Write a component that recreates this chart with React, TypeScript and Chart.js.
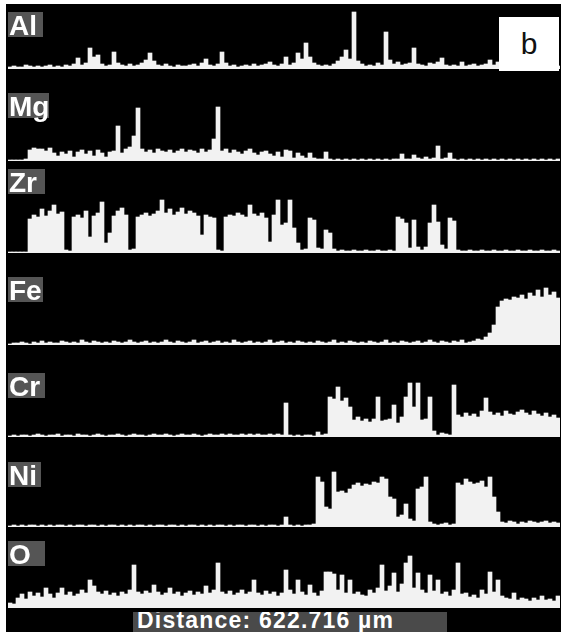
import React, { useEffect, useRef } from "react";
import { Chart, registerables } from "chart.js";

Chart.register(...registerables);

// 138 scan positions along the 622.716 µm line
const POSITIONS: string[] = Array.from({ length: 138 }, (_, i) => String(i));

const AL = [2,3,2,2,4,3,2,3,2,3,
 4,2,3,2,4,3,5,11,4,6,
 21,12,14,5,3,4,17,6,4,3,
 5,3,4,6,9,16,8,4,3,5,
 3,2,4,3,3,4,5,3,6,10,
 4,3,5,17,6,3,4,2,3,4,
 3,5,3,4,5,7,4,3,5,12,
 4,6,16,10,26,12,6,4,3,4,
 3,5,8,12,19,10,57,8,5,3,
 4,3,6,4,37,9,5,7,4,5,
 6,21,5,4,3,6,5,7,11,4,
 3,4,3,7,3,4,5,3,4,5,
 9,4,7,3,3,3,3,3,3,3,
 3,3,3,3,3,3,3,3];

const MG = [1,1,1,1,2,11,13,12,12,10,
 13,8,5,9,7,10,4,9,11,7,
 10,5,11,8,4,9,10,35,8,12,
 14,25,53,12,9,11,8,12,10,9,
 11,8,10,12,9,11,10,8,12,9,
 11,22,54,10,12,8,11,9,7,10,
 12,8,6,9,10,7,5,9,4,11,
 10,3,8,5,3,8,3,2,2,9,
 2,1,2,1,2,1,2,1,2,1,
 2,1,2,1,2,1,2,2,7,2,
 2,6,3,2,4,2,3,15,2,3,
 8,2,1,2,1,2,1,2,1,2,
 1,2,1,2,1,2,1,2,1,2,
 1,2,1,2,1,2,1,2];

const ZR = [1,1,1,1,1,34,38,36,44,37,
 42,48,39,41,3,2,36,38,35,42,
 16,37,40,51,10,20,37,42,45,38,
 3,4,36,38,40,37,39,42,53,40,
 44,38,41,45,39,42,40,37,18,38,
 36,35,3,2,36,38,37,40,38,36,
 48,39,37,40,35,11,38,53,28,30,
 53,25,10,3,4,35,33,5,4,23,
 20,4,2,3,2,2,3,2,2,3,
 2,2,3,2,2,3,2,36,34,30,
 5,33,6,3,6,30,48,31,8,4,
 35,32,3,2,2,3,2,2,3,2,
 2,3,2,2,3,2,2,3,2,2,
 3,2,2,3,2,2,3,2];

const FE = [1,2,2,3,2,1,3,2,4,2,
 3,2,2,4,3,2,3,2,5,3,
 2,4,3,2,3,2,4,3,2,3,
 5,3,2,3,4,2,3,2,3,5,
 3,2,4,3,2,3,5,2,3,4,
 2,3,4,2,3,2,5,3,2,3,
 4,2,3,2,3,5,2,3,4,2,
 3,2,4,3,2,3,2,4,3,2,
 3,5,2,3,2,4,3,2,3,2,
 4,3,2,3,5,2,3,2,4,3,
 2,3,4,2,3,5,3,2,4,3,
 2,4,3,5,2,3,4,6,5,8,
 12,20,38,44,46,45,48,47,50,46,
 52,49,55,48,57,50,53,47];

const CR = [1,2,1,2,2,1,2,3,2,1,
 2,2,3,1,2,2,1,3,2,2,
 1,2,3,2,1,2,2,3,2,1,
 2,3,2,2,1,2,3,2,2,3,
 2,1,2,3,2,2,3,2,1,2,
 3,2,2,3,2,3,2,2,3,2,
 3,2,3,2,2,3,2,3,2,34,
 2,1,2,1,2,2,1,5,2,3,
 40,38,50,36,39,30,17,20,16,18,
 15,18,40,16,17,18,32,14,20,40,
 54,30,54,17,18,40,6,2,4,3,
 2,52,22,20,24,21,23,20,26,39,
 25,22,24,21,26,23,22,25,27,24,
 22,26,23,21,24,20,22,19];

const NI = [1,2,1,2,1,2,2,1,2,1,
 2,1,2,2,1,2,1,2,2,1,
 2,2,1,2,1,2,2,1,2,1,
 2,1,2,2,1,2,1,2,2,1,
 2,2,1,2,1,2,2,1,2,1,
 2,1,2,2,1,2,1,2,2,1,
 2,2,1,2,1,2,2,1,2,10,
 2,1,2,1,2,2,3,50,45,20,
 18,55,35,36,34,38,42,44,41,43,
 42,45,44,50,48,30,28,10,12,23,
 8,6,38,40,50,5,3,2,3,4,
 2,3,44,42,48,45,43,44,46,40,
 50,30,15,5,4,6,5,3,5,4,
 6,5,4,5,6,4,5,4];

const O = [5,4,10,14,9,16,12,15,11,20,
 14,10,15,20,13,16,12,14,18,15,
 28,22,16,14,17,13,15,12,16,14,
 18,43,16,14,17,15,23,16,13,15,
 20,14,16,12,15,17,13,16,14,22,
 15,18,45,16,14,17,13,15,18,14,
 16,28,15,13,17,14,16,12,15,38,
 18,14,28,16,13,23,15,12,17,36,
 36,34,18,33,15,28,14,16,13,12,
 18,15,20,43,17,22,35,16,24,45,
 52,20,35,18,15,33,17,28,14,16,
 12,18,45,14,15,11,13,10,18,14,
 36,16,28,12,10,9,15,8,10,9,
 7,10,8,12,8,9,7,12];

const ELEMENTS = ["Al", "Mg", "Zr", "Fe", "Cr", "Ni", "O"];
const SERIES = [AL, MG, ZR, FE, CR, NI, O];
const DISTANCE_LABEL = "Distance: 622.716 µm";
const PANEL_LETTER = "b";

// layout (pixels)
const BASELINES = [69, 161, 253, 345, 437, 527, 608];
const PANEL_HEIGHTS = [60, 70, 70, 70, 70, 70, 70];
const LABEL_TOPS = [12, 93, 169, 277, 373, 462, 541];
const LABEL_WIDTHS = [35, 41, 37, 35, 37, 33, 37];
const PLOT_LEFT = 8;
const PLOT_WIDTH = 552;

function Panel({ values, baseline, height }: { values: number[]; baseline: number; height: number }) {
  const ref = useRef<HTMLCanvasElement | null>(null);
  useEffect(() => {
    if (!ref.current) return;
    const chart = new Chart(ref.current, {
      type: "bar",
      data: {
        labels: POSITIONS,
        datasets: [
          {
            data: values,
            backgroundColor: "#f2f2f2",
            borderWidth: 0,
            barPercentage: 1,
            categoryPercentage: 1,
          },
        ],
      },
      options: {
        animation: false,
        responsive: false,
        maintainAspectRatio: false,
        events: [],
        layout: { padding: 0 },
        plugins: { legend: { display: false }, tooltip: { enabled: false } },
        scales: {
          x: { display: false },
          y: { display: false, min: 0, max: height },
        },
      },
    });
    return () => chart.destroy();
  }, [values, height]);
  return (
    <canvas
      ref={ref}
      width={PLOT_WIDTH}
      height={height}
      style={{
        position: "absolute",
        left: PLOT_LEFT,
        top: baseline - height,
        width: PLOT_WIDTH,
        height,
      }}
    />
  );
}

export default function App() {
  useEffect(() => {
    document.body.style.margin = "0";
  }, []);
  const font = '"Liberation Sans", Arial, sans-serif';
  return (
    <div style={{ position: "relative", width: 566, height: 636, background: "#ffffff", overflow: "hidden" }}>
      <div style={{ position: "absolute", left: 6, top: 4, width: 555, height: 628, background: "#000" }} />
      {SERIES.map((vals, i) => (
        <Panel key={ELEMENTS[i]} values={vals} baseline={BASELINES[i]} height={PANEL_HEIGHTS[i]} />
      ))}
      {ELEMENTS.map((el, i) => (
        <div
          key={"lbl" + el}
          style={{
            position: "absolute",
            left: 8,
            top: LABEL_TOPS[i],
            width: LABEL_WIDTHS[i],
            height: 25,
            background: "#555555",
            color: "#ffffff",
            fontFamily: font,
            fontWeight: "bold",
            fontSize: 28,
            lineHeight: "27px",
            paddingLeft: 1,
            boxSizing: "border-box",
            whiteSpace: "nowrap",
          }}
        >
          {el}
        </div>
      ))}
      <div
        style={{
          position: "absolute",
          left: 499,
          top: 17,
          width: 60,
          height: 54,
          background: "#ffffff",
          color: "#111",
          fontFamily: font,
          fontSize: 30,
          lineHeight: "54px",
          textAlign: "center",
        }}
      >
        {PANEL_LETTER}
      </div>
      <div
        style={{
          position: "absolute",
          left: 133,
          top: 612,
          width: 314,
          height: 20,
          background: "#4a4a4a",
          color: "#ffffff",
          fontFamily: font,
          fontWeight: "bold",
          fontSize: 23,
          lineHeight: "16px",
          letterSpacing: 1.2,
          paddingLeft: 4,
          boxSizing: "border-box",
          whiteSpace: "nowrap",
          overflow: "hidden",
        }}
      >
        {DISTANCE_LABEL}
      </div>
    </div>
  );
}
